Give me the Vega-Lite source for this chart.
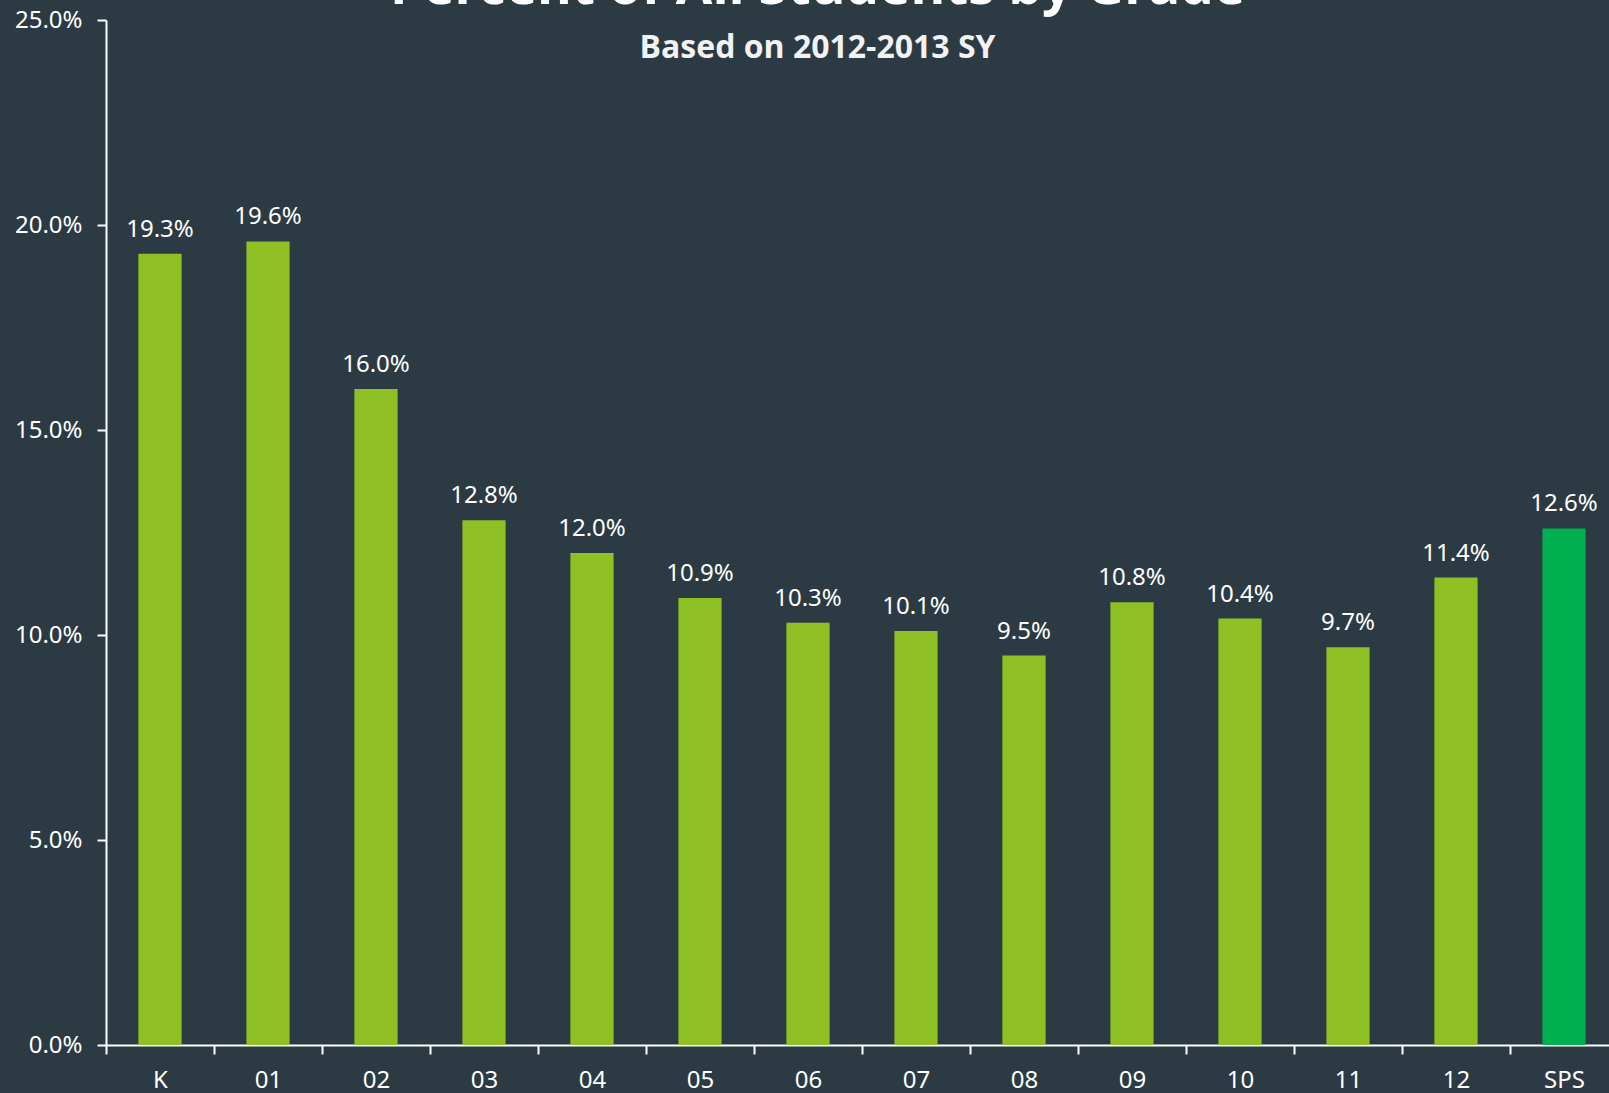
{
  "$schema": "https://vega.github.io/schema/vega-lite/v6.json",
  "autosize": "none",
  "width": 1503,
  "height": 1025,
  "padding": {"left": 106, "top": 20, "right": 0, "bottom": 48},
  "background": "#2c3b43",
  "title": {
    "text": "Percent of All Students by Grade",
    "subtitle": "Based on 2012-2013 SY",
    "anchor": "middle",
    "frame": "group",
    "dx": -40,
    "offset": -56,
    "font": "Open Sans",
    "fontSize": 53,
    "fontWeight": "bold",
    "color": "#ffffff",
    "subtitleFont": "Open Sans",
    "subtitleFontSize": 32,
    "subtitleFontWeight": "bold",
    "subtitleColor": "#f2f2f2",
    "subtitlePadding": 18
  },
  "config": {
    "view": {"stroke": null},
    "axis": {
      "labelFont": "Noto Sans",
      "labelFontSize": 24,
      "labelColor": "#ffffff",
      "domainColor": "#ffffff",
      "domainWidth": 2,
      "tickColor": "#ffffff",
      "tickWidth": 2,
      "tickSize": 9,
      "grid": false,
      "title": null
    }
  },
  "data": {
    "values": [
      {"grade": "K", "pct": 0.193, "group": "grade"},
      {"grade": "01", "pct": 0.196, "group": "grade"},
      {"grade": "02", "pct": 0.160, "group": "grade"},
      {"grade": "03", "pct": 0.128, "group": "grade"},
      {"grade": "04", "pct": 0.120, "group": "grade"},
      {"grade": "05", "pct": 0.109, "group": "grade"},
      {"grade": "06", "pct": 0.103, "group": "grade"},
      {"grade": "07", "pct": 0.101, "group": "grade"},
      {"grade": "08", "pct": 0.095, "group": "grade"},
      {"grade": "09", "pct": 0.108, "group": "grade"},
      {"grade": "10", "pct": 0.104, "group": "grade"},
      {"grade": "11", "pct": 0.097, "group": "grade"},
      {"grade": "12", "pct": 0.114, "group": "grade"},
      {"grade": "SPS", "pct": 0.126, "group": "total"}
    ]
  },
  "encoding": {
    "x": {
      "field": "grade",
      "type": "nominal",
      "sort": null,
      "scale": {"range": [0, 1512], "paddingInner": 0, "paddingOuter": 0},
      "axis": {"labelAngle": 0, "tickBand": "extent", "labelPadding": 14}
    },
    "y": {
      "field": "pct",
      "type": "quantitative",
      "scale": {"domain": [0, 0.25], "nice": false},
      "axis": {"format": ".1%", "values": [0, 0.05, 0.1, 0.15, 0.2, 0.25], "labelPadding": 15}
    }
  },
  "layer": [
    {
      "mark": {"type": "bar", "clip": false, "width": {"band": 0.4}},
      "encoding": {
        "color": {
          "field": "group",
          "type": "nominal",
          "scale": {"domain": ["grade", "total"], "range": ["#8fc124", "#00b050"]},
          "legend": null
        }
      }
    },
    {
      "mark": {"type": "text", "baseline": "alphabetic", "dy": -17, "font": "Noto Sans", "fontSize": 24, "color": "#ffffff"},
      "encoding": {
        "text": {"field": "pct", "type": "quantitative", "format": ".1%"}
      }
    }
  ]
}
